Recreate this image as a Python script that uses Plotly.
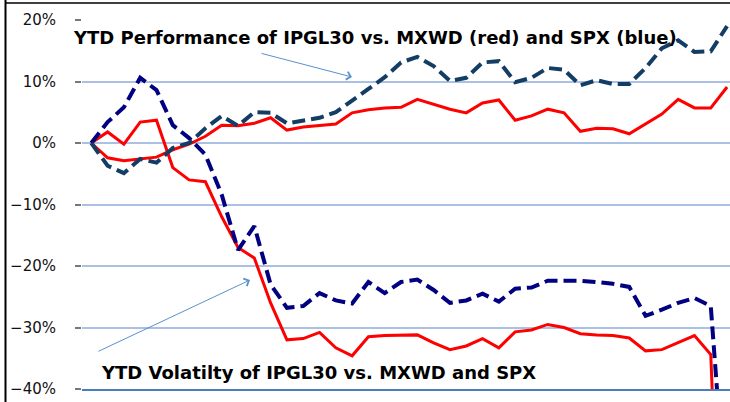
import plotly.graph_objects as go

# ---- data (percent), weekly points ----
weeks = list(range(40))

mxwd_perf = [0, -2.4, -2.9, -2.6, -2.3, -1.1, -0.2, 1.1, 2.9, 2.8,
             3.2, 4.1, 2.1, 2.6, 2.8, 3.1, 4.9, 5.4, 5.7, 5.8,
             7.1, 6.3, 5.5, 4.9, 6.5, 7.0, 3.7, 4.4, 5.5, 4.9,
             1.9, 2.4, 2.3, 1.5, 3.1, 4.7, 7.1, 5.7, 5.7, 9.1]

spx_perf = [0, -3.7, -4.9, -2.6, -3.2, -0.8, 0.0, 2.4, 4.4, 2.8,
            5.0, 4.9, 3.2, 3.7, 4.1, 5.0, 7.0, 8.8, 10.7, 13.1,
            14.0, 12.5, 10.1, 10.6, 13.1, 13.3, 9.9, 10.6, 12.2, 11.9,
            9.4, 10.2, 9.6, 9.6, 12.2, 15.4, 16.7, 14.8, 14.9, 19.0]

mxwd_vol = [0, 1.8, -0.2, 3.4, 3.7, -4.0, -6.0, -6.3, -12.0, -17.0,
            -18.7, -26.0, -32.0, -31.8, -30.8, -33.3, -34.6, -31.5, -31.3, -31.2,
            -31.2, -32.5, -33.6, -33.0, -31.8, -33.3, -30.7, -30.4, -29.5, -30.0,
            -31.0, -31.2, -31.3, -31.7, -33.8, -33.6, -32.5, -31.3, -34.4, -100.0]

spx_vol = [0, 3.4, 5.8, 10.6, 8.6, 2.9, 0.8, -1.9, -8.4, -17.4,
           -13.5, -23.0, -26.8, -26.5, -24.4, -25.6, -26.1, -22.6, -24.4, -22.6,
           -22.2, -23.9, -26.0, -25.6, -24.5, -25.8, -23.7, -23.5, -22.4, -22.4,
           -22.4, -22.6, -22.9, -23.4, -28.1, -27.1, -26.0, -25.2, -26.5, -62.0]

y_ticks = [-40, -30, -20, -10, 0, 10, 20]
y_tick_labels = ["\u221240%", "\u221230%", "\u221220%", "\u221210%", "0%", "10%", "20%"]

title_perf = "YTD Performance of IPGL30 vs. MXWD (red) and SPX (blue)"
title_vol = "YTD Volatilty of IPGL30 vs. MXWD and SPX"

# ---- figure ----
W, H = 730, 402
L, R, T, B = 82, 0, 20, 13
PW, PH = W - L - R, H - T - B

def px(xp):
    return (xp - L) / PW

def py(yp):
    return (H - B - yp) / PH

fig = go.Figure()
red = "#FF0000"
fig.add_trace(go.Scatter(x=weeks, y=mxwd_vol, mode="lines",
                         line=dict(color=red, width=3)))
fig.add_trace(go.Scatter(x=weeks, y=mxwd_perf, mode="lines",
                         line=dict(color=red, width=3)))
fig.add_trace(go.Scatter(x=weeks, y=spx_vol, mode="lines",
                         line=dict(color="#000080", width=4, dash="13px,6px")))
fig.add_trace(go.Scatter(x=weeks, y=spx_perf, mode="lines",
                         line=dict(color="#143d66", width=4, dash="13px,6px")))

fig.update_layout(
    width=W, height=H,
    margin=dict(l=L, r=R, t=T, b=B),
    paper_bgcolor="white", plot_bgcolor="white",
    showlegend=False,
    font=dict(family="DejaVu Sans", color="black"),
    xaxis=dict(range=[-0.57, 39.18], showgrid=False, zeroline=False,
               showticklabels=False, ticks="", showline=True,
               linecolor="#4a7ebb", linewidth=2),
    yaxis=dict(range=[-40, 20], tickvals=y_ticks, ticktext=y_tick_labels,
               showgrid=True, gridcolor="#aac0e4", gridwidth=1.5,
               zeroline=False, ticks="outside", ticklen=6, tickcolor="#777",
               tickwidth=1.5, ticklabelstandoff=16,
               tickfont=dict(family="DejaVu Sans", size=15, color="#111")),
)

# annotations: texts
fig.add_annotation(xref="paper", yref="paper", x=px(71), y=py(37.5),
                   xanchor="left", yanchor="middle", showarrow=False,
                   text=title_perf,
                   font=dict(family="DejaVu Sans", size=18, color="black", weight="bold"))
fig.add_annotation(xref="paper", yref="paper", x=px(99), y=py(372),
                   xanchor="left", yanchor="middle", showarrow=False,
                   text=title_vol,
                   font=dict(family="DejaVu Sans", size=18, color="black", weight="bold"))

# arrows
arrow_col = "#5b8fd0"
fig.add_annotation(xref="paper", yref="paper", x=px(352), y=py(77),
                   ax=-92, ay=-24, text="", showarrow=True,
                   arrowhead=4, arrowsize=1.6, arrowwidth=1, arrowcolor=arrow_col,
                   standoff=0)
fig.add_annotation(xref="paper", yref="paper", x=px(250), y=py(280),
                   ax=-153, ay=72, text="", showarrow=True,
                   arrowhead=4, arrowsize=1.6, arrowwidth=1, arrowcolor=arrow_col,
                   standoff=0)

# frame lines (left and top)
fig.add_shape(type="line", xref="paper", yref="paper",
              x0=px(5.5), x1=px(5.5), y0=py(0), y1=py(402),
              line=dict(color="black", width=2))
fig.add_shape(type="line", xref="paper", yref="paper",
              x0=px(5), x1=px(730), y0=py(3), y1=py(3),
              line=dict(color="black", width=1.5))

fig.write_html("out.html",
               config={"displayModeBar": False},
               post_script="document.body.style.margin='0px';"
                           "document.body.style.overflow='hidden';")
